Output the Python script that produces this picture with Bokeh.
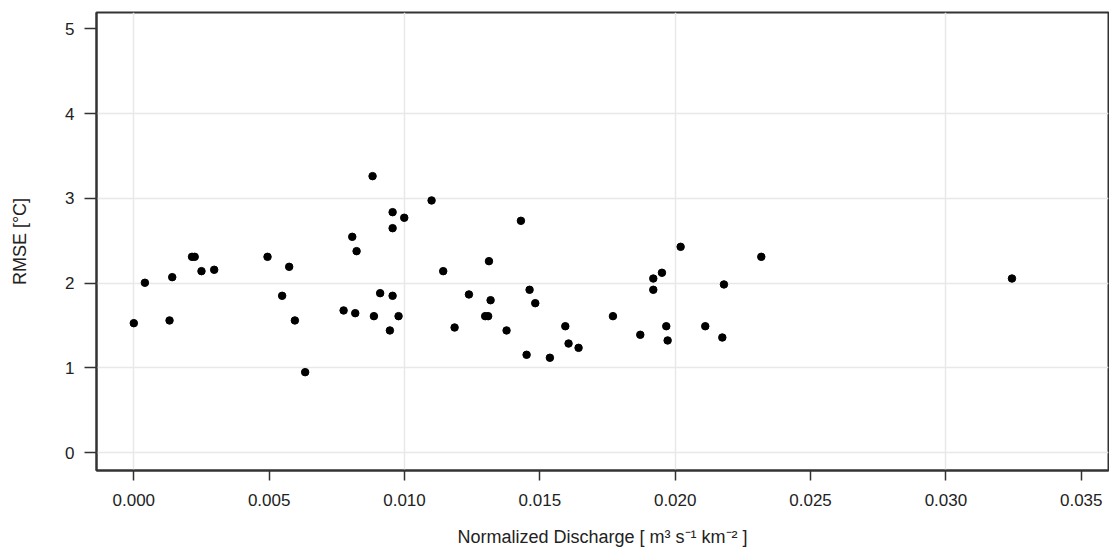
from bokeh.plotting import figure
from bokeh.models import Range1d, FixedTicker, ColumnDataSource
from bokeh.embed import file_html
from bokeh.resources import INLINE

# Normalized discharge [m3 s-1 km-2]
discharge = [0.0000, 0.00041, 0.00132, 0.00142, 0.00215, 0.00225, 0.0025, 0.00297,
             0.00494, 0.00574, 0.00548, 0.00595, 0.00633, 0.00882, 0.00807, 0.00823,
             0.00775, 0.00818, 0.00887, 0.00910, 0.00956, 0.00956, 0.00999, 0.00956,
             0.00978, 0.00946, 0.0110, 0.01143, 0.01185, 0.01238, 0.01312, 0.01318,
             0.01298, 0.01309, 0.01377, 0.0143, 0.01462, 0.01483, 0.01451, 0.01537,
             0.01594, 0.01606, 0.01643, 0.0177, 0.01871, 0.01919, 0.01919, 0.01951,
             0.01967, 0.01972, 0.0202, 0.02111, 0.0218, 0.02174, 0.02318, 0.03244]
# RMSE [°C]
rmse = [1.526, 2.003, 1.558, 2.069, 2.309, 2.309, 2.140, 2.156,
        2.309, 2.191, 1.849, 1.558, 0.948, 3.261, 2.545, 2.376,
        1.676, 1.644, 1.609, 1.880, 2.836, 2.647, 2.770, 1.849,
        1.609, 1.440, 2.974, 2.140, 1.475, 1.865, 2.258, 1.797,
        1.609, 1.609, 1.440, 2.734, 1.920, 1.762, 1.153, 1.118,
        1.490, 1.286, 1.235, 1.609, 1.389, 2.053, 1.920, 2.121,
        1.490, 1.322, 2.427, 1.490, 1.983, 1.357, 2.309, 2.053]

x_ticks = [0.000, 0.005, 0.010, 0.015, 0.020, 0.025, 0.030, 0.035]
y_ticks = [0, 1, 2, 3, 4, 5]
x_grid = [0.000, 0.010, 0.020, 0.030]
y_grid = [0, 1, 2, 3, 4]

src = ColumnDataSource(dict(x=discharge, y=rmse))

p = figure(width=1109, height=553, output_backend="svg", toolbar_location=None,
           x_range=Range1d(-0.001378, 0.036006), y_range=Range1d(-0.2124, 5.192),
           min_border_left=96, min_border_right=1, min_border_top=12, min_border_bottom=83,
           background_fill_color="white", border_fill_color="white")

p.scatter("x", "y", source=src, size=7.5, color="black", line_color="black")

font = "Liberation Sans"
for ax in (p.xaxis[0], p.yaxis[0]):
    ax.axis_line_color = "#333333"
    ax.axis_line_width = 2
    ax.major_tick_line_color = "#333333"
    ax.major_tick_line_width = 1.5
    ax.major_tick_in = 0
    ax.minor_tick_line_color = None
    ax.major_label_text_font = font
    ax.major_label_text_font_size = "17px"
    ax.major_label_text_color = "#222222"
    ax.axis_label_text_font = font
    ax.axis_label_text_font_size = "18px"
    ax.axis_label_text_font_style = "normal"
    ax.axis_label_text_color = "#222222"

p.xaxis[0].ticker = FixedTicker(ticks=x_ticks)
p.xaxis[0].major_label_overrides = {t: f"{t:.3f}" for t in x_ticks}
p.xaxis[0].major_tick_out = 10
p.xaxis[0].major_label_standoff = 13
p.xaxis[0].axis_label = "Normalized Discharge [ m\u00b3 s\u207b\u00b9 km\u207b\u00b2 ]"
p.xaxis[0].axis_label_standoff = 18

p.yaxis[0].ticker = FixedTicker(ticks=y_ticks)
p.yaxis[0].major_tick_out = 12
p.yaxis[0].major_label_standoff = 10
p.yaxis[0].axis_label = "RMSE [°C]"
p.yaxis[0].axis_label_standoff = 32

p.xgrid[0].ticker = FixedTicker(ticks=x_grid)
p.ygrid[0].ticker = FixedTicker(ticks=y_grid)
p.grid.grid_line_color = "#e8e8e8"
p.grid.grid_line_width = 1.5

p.outline_line_color = "#333333"
p.outline_line_width = 2

open("out.html", "w").write(file_html(p, INLINE))
